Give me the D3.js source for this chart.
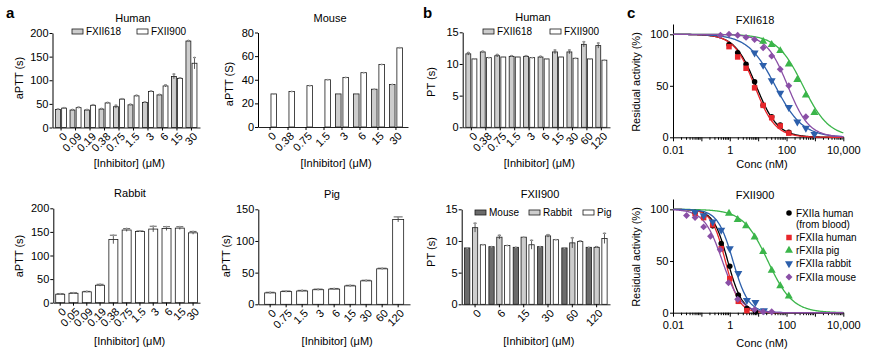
<!doctype html>
<html lang="en">
<head>
<meta charset="UTF-8">
<title>FXII inhibitors: aPTT, PT and residual activity</title>
<script src="https://d3js.org/d3.v7.min.js"></script>
<style>
  body { margin: 0; background: #fff; }
  svg { font-family: Arial, "Liberation Sans", sans-serif; }
</style>
</head>
<body>
<svg id="fig" width="869" height="352"></svg>
<script>

// ---- panel a: aPTT (s) ----
const aHumanConc = ['0', '0.09', '0.19', '0.38', '0.75', '1.5', '3', '6', '15', '30'];
const aHuman618 = [38, 37, 37, 39, 44, 48, 53, 69, 108, 183];
const aHuman618Err = [1, 1, 1, 1, 3, 1, 1, 1, 5, 1];
const aHuman900 = [41, 42, 47, 52, 60, 67, 76, 88, 104, 136];
const aHuman900Err = [1, 1, 1, 1, 1, 1, 1, 2, 1, 12];

const aMouseConc = ['0', '0.38', '0.75', '1.5', '3', '6', '15', '30'];
const aMouse618 = [null, null, null, null, 28, 28, 32, 36];
const aMouse900 = [28, 30, 35, 40, 42, 46, 53, 67];

const aRabbitConc = ['0', '0.05', '0.09', '0.19', '0.38', '0.75', '1.5', '3', '6', '15', '30'];
const aRabbit900 = [18, 20, 23, 37, 134, 154, 151, 156, 157, 158, 148];
const aRabbit900Err = [1, 1, 1, 2, 9, 3, 1, 6, 4, 3, 3];

const aPigConc = ['0', '0.75', '1.5', '3', '6', '15', '30', '60', '120'];
const aPig900 = [18, 20, 21, 23, 24, 29, 37, 56, 134];
const aPig900Err = [1, 1, 1, 1, 1, 1, 1, 1, 4];

// ---- panel b: PT (s) ----
const bHumanConc = ['0', '0.38', '0.75', '1.5', '3', '6', '15', '30', '60', '120'];
const bHuman618 = [11.6, 11.9, 11.3, 11.2, 11.2, 11.1, 11.9, 11.9, 13.1, 12.9];
const bHuman618Err = [0.2, 0.1, 0.2, 0.1, 0.1, 0.1, 0.3, 0.3, 0.4, 0.4];
const bHuman900 = [10.8, 11.0, 11.1, 11.1, 11.0, 10.8, 11.1, 10.9, 10.8, 10.6];

const bSpeciesConc = ['0', '6', '15', '30', '60', '120'];
const bMouse900 = [8.9, 9.1, 9.0, 9.1, 8.9, 9.0];
const bRabbit900 = [12.1, 10.6, 10.6, 10.8, 9.7, 9.0];
const bRabbit900Err = [0.7, 0.3, 0, 0.2, 0.8, 0.1];
const bPig900 = [9.4, 9.3, 9.4, 10.2, 9.9, 10.4];
const bPig900Err = [0, 0, 0.7, 0, 0.1, 0.8];

// ---- panel c: residual activity (%) vs conc (nM) ----
// top: FXII618
const c618BloodConc = [0.94, 1.9, 3.75, 7.5, 15, 30, 60, 120];
const c618BloodVal = [90, 82, 71, 54, 31, 20, 12, 5];
const c618HumanConc = [0.94, 1.9, 3.75, 7.5, 15, 30, 60, 120];
const c618HumanVal = [88, 78, 67, 48, 31, 19, 11, 4];
const c618PigConc = [15, 30, 60, 120, 240, 480, 960];
const c618PigVal = [93, 90, 84, 71, 56, 41, 24];
const c618RabbitConc = [7.5, 15, 30, 60, 120, 240, 480, 960];
const c618RabbitVal = [82, 70, 55, 43, 29, 15, 9, 3];
const c618MouseConc = [0.47, 0.94, 1.9, 3.75, 7.5, 15, 30, 60, 120, 480];
const c618MouseVal = [99, 100, 99, 97, 95, 87, 79, 66, 50, 20];
// fitted IC50 (nM) and Hill slope per curve, order: blood, human, pig, rabbit, mouse
const c618Ic50 = [8.5, 7.5, 380, 40, 110];
const c618Hill = [1.15, 1.2, 0.95, 0.9, 1.15];

// bottom: FXII900
const c900BloodConc = [0.06, 0.12, 0.25, 0.5, 1, 2, 4, 8];
const c900BloodVal = [97, 93, 84, 67, 45, 17, 4, 1];
const c900HumanConc = [0.06, 0.12, 0.25, 0.5, 1, 2, 4];
const c900HumanVal = [96, 92, 85, 62, 33, 11, 2];
const c900PigConc = [0.94, 1.9, 3.75, 7.5, 15, 30, 60, 120];
const c900PigVal = [96, 90, 84, 73, 59, 41, 26, 16];
const c900RabbitConc = [0.06, 0.12, 0.25, 0.5, 1, 2, 4, 8, 16];
const c900RabbitVal = [97, 94, 88, 80, 62, 38, 12, 10, 2];
const c900MouseConc = [0.03, 0.06, 0.12, 0.21, 0.46, 0.9, 1.9, 7.5, 15, 30];
const c900MouseVal = [94, 92, 83, 74, 61, 29, 13, 3, 1, 1];
const c900Ic50 = [0.85, 0.7, 22, 1.3, 0.55];
const c900Hill = [1.7, 1.8, 1.0, 1.6, 1.35];

const legendNames = ['FXIIa human', 'rFXIIa human', 'rFXIIa pig', 'rFXIIa rabbit', 'rFXIIa mouse'];
const curveColors = ['#000000', '#e8262b', '#3bb54a', '#2c5fab', '#8a4fa6'];

const gray618 = '#cdcdcd';
const svg = d3.select('#fig');

function text(x, y, str, opt = {}) {
  return svg.append('text')
      .attr('x', x).attr('y', y)
      .attr('font-size', opt.size || 11)
      .attr('font-weight', opt.weight || 'normal')
      .attr('text-anchor', opt.anchor || 'middle')
      .attr('transform', opt.rotate ? `rotate(-90,${x},${y})` : null)
      .text(str);
}

// one bar chart; left/right/top/bottom are the frame of the axes
function barPanel(p) {
  const g = svg.append('g');
  const x0 = d3.scaleBand().domain(p.cats).range([p.left, p.right]).paddingInner(0).paddingOuter(p.outer);
  const x1 = d3.scaleBand().domain(p.series.map(s => s.key)).range([-p.group / 2, p.group / 2]).paddingInner(p.inner);
  const y = d3.scaleLinear().domain([0, p.max]).range([p.bottom, p.top]);

  p.series.forEach(s => {
    const rows = p.cats.map((c, i) => ({ c, v: s.values[i], e: s.err ? s.err[i] : 0 }))
        .filter(d => d.v != null);
    const cx = d => x0(d.c) + x0.bandwidth() / 2 + x1(s.key);

    g.selectAll(null).data(rows).join('rect')
        .attr('x', cx)
        .attr('y', d => y(d.v))
        .attr('width', x1.bandwidth())
        .attr('height', d => y(0) - y(d.v))
        .attr('fill', s.fill)
        .attr('stroke', '#1a1a1a')
        .attr('stroke-width', 0.8);

    // error bars
    const eb = g.selectAll(null).data(rows.filter(d => d.e > 0)).join('g')
        .attr('stroke', '#333').attr('stroke-width', 0.8);
    eb.append('line')
        .attr('x1', d => cx(d) + x1.bandwidth() / 2).attr('x2', d => cx(d) + x1.bandwidth() / 2)
        .attr('y1', d => y(d.v - d.e)).attr('y2', d => y(d.v + d.e));
    eb.append('line')
        .attr('x1', d => cx(d) + 1).attr('x2', d => cx(d) + x1.bandwidth() - 1)
        .attr('y1', d => y(d.v + d.e)).attr('y2', d => y(d.v + d.e));

    // replicate dots
    g.selectAll(null).data(rows).join('circle')
        .attr('cx', d => cx(d) + x1.bandwidth() / 2)
        .attr('cy', d => y(d.v + d.e))
        .attr('r', 1)
        .attr('fill', '#999');
  });

  g.append('g')
      .attr('transform', `translate(0,${p.bottom})`)
      .call(d3.axisBottom(x0).tickSize(3).tickSizeOuter(0))
      .call(ax => ax.select('.domain').attr('stroke', '#222'))
      .call(ax => ax.selectAll('text')
          .attr('y', 0).attr('dy', '0.35em')
          .attr('font-size', 11).attr('font-family', null)
          .attr('text-anchor', 'end')
          .attr('transform', 'translate(4,7) rotate(-45)'));

  g.append('g')
      .attr('transform', `translate(${p.left},0)`)
      .call(d3.axisLeft(y).tickValues(p.ticks).tickSize(3).tickPadding(1).tickSizeOuter(0))
      .call(ax => ax.selectAll('text').attr('font-size', 11).attr('font-family', null));

  text(p.titleX, p.top - 11, p.title);
  text(p.ylabX, p.ylabY, p.ylab, { rotate: true });
  text((p.left + p.right) / 2 + 3, p.xlabY, '[Inhibitor] (\u03bcM)');
}

function legendBoxes(items, y) {
  items.forEach(it => {
    svg.append('rect').attr('x', it.x).attr('y', y - 2.5).attr('width', 11).attr('height', 5)
        .attr('fill', it.fill).attr('stroke', '#1a1a1a').attr('stroke-width', 0.8);
    text(it.x + 14, y + 3.5, it.label, { size: 10, anchor: 'start' });
  });
}

// ---- a ----
barPanel({ cats: aHumanConc, left: 52.5, right: 200, outer: 0.09, top: 33, bottom: 127.5, max: 200,
  ticks: [0, 50, 100, 150, 200], group: 11, inner: 0.2,
  series: [{ key: '618', values: aHuman618, err: aHuman618Err, fill: gray618 },
           { key: '900', values: aHuman900, err: aHuman900Err, fill: '#fff' }],
  title: 'Human', titleX: 133, ylab: 'aPTT (s)', ylabX: 23, ylabY: 78, xlabY: 167 });
legendBoxes([{ x: 72, fill: gray618, label: 'FXII618' }, { x: 137, fill: '#fff', label: 'FXII900' }], 31.5);

barPanel({ cats: aMouseConc, left: 258, right: 408, outer: 0.17, top: 32.5, bottom: 127, max: 80,
  ticks: [0, 20, 40, 60, 80], group: 13, inner: 0.25,
  series: [{ key: '618', values: aMouse618, fill: gray618 },
           { key: '900', values: aMouse900, fill: '#fff' }],
  title: 'Mouse', titleX: 330, ylab: 'aPTT (S)', ylabX: 233, ylabY: 84, xlabY: 167 });

barPanel({ cats: aRabbitConc, left: 53.3, right: 200, outer: 0.02, top: 208.3, bottom: 302.7, max: 200,
  ticks: [0, 50, 100, 150, 200], group: 9, inner: 0,
  series: [{ key: '900', values: aRabbit900, err: aRabbit900Err, fill: '#fff' }],
  title: 'Rabbit', titleX: 130, ylab: 'aPTT (s)', ylabX: 23, ylabY: 256, xlabY: 345 });

barPanel({ cats: aPigConc, left: 258.3, right: 410, outer: 0.24, top: 209.3, bottom: 304.3, max: 150,
  ticks: [0, 50, 100, 150], group: 11, inner: 0,
  series: [{ key: '900', values: aPig900, err: aPig900Err, fill: '#fff' }],
  title: 'Pig', titleX: 332, ylab: 'aPTT (s)', ylabX: 230, ylabY: 256, xlabY: 345 });

// ---- b ----
barPanel({ cats: bHumanConc, left: 462.7, right: 610, outer: 0.1, top: 32.3, bottom: 127.3, max: 15,
  ticks: [0, 5, 10, 15], group: 11, inner: 0.2,
  series: [{ key: '618', values: bHuman618, err: bHuman618Err, fill: gray618 },
           { key: '900', values: bHuman900, fill: '#fff' }],
  title: 'Human', titleX: 533, ylab: 'PT (s)', ylabX: 435, ylabY: 82, xlabY: 167 });
legendBoxes([{ x: 483, fill: gray618, label: 'FXII618' }, { x: 550, fill: '#fff', label: 'FXII900' }], 31.5);

barPanel({ cats: bSpeciesConc, left: 461.7, right: 610, outer: 0.05, top: 209.3, bottom: 304.3, max: 15,
  ticks: [0, 5, 10, 15], group: 21, inner: 0.33,
  series: [{ key: 'mouse', values: bMouse900, fill: '#6b6b6b' },
           { key: 'rabbit', values: bRabbit900, err: bRabbit900Err, fill: gray618 },
           { key: 'pig', values: bPig900, err: bPig900Err, fill: '#fff' }],
  title: 'FXII900', titleX: 540, ylab: 'PT (s)', ylabX: 435, ylabY: 252, xlabY: 345 });
legendBoxes([{ x: 475, fill: '#6b6b6b', label: 'Mouse' }, { x: 529, fill: gray618, label: 'Rabbit' },
             { x: 583, fill: '#fff', label: 'Pig' }], 212.5);

// ---- c ----
const symbols = [
  { type: d3.symbolCircle, size: 24, rot: 0 },
  { type: d3.symbolSquare, size: 30, rot: 0 },
  { type: d3.symbolTriangle, size: 28, rot: 0 },
  { type: d3.symbolTriangle, size: 28, rot: 180 },
  { type: d3.symbolSquare, size: 24, rot: 45 }
];

function curvePanel(p) {
  const g = svg.append('g');
  const x = d3.scaleLog().domain([0.01, 10000]).range([673, 843.3]);
  const y = d3.scaleLinear().domain([0, 110]).range([p.bottom, p.top]);
  const major = [0.01, 0.1, 1, 10, 100, 1000, 10000];
  const labelled = [0.01, 1, 100, 10000];

  g.append('g')
      .attr('transform', `translate(0,${p.bottom})`)
      .call(d3.axisBottom(x).tickValues(major).tickSize(4).tickPadding(4.5).tickSizeOuter(0)
          .tickFormat(d => labelled.includes(d) ? d3.format(',')(d) : ''))
      .call(ax => ax.selectAll('text').attr('font-size', 11).attr('font-family', null));
  g.append('g')
      .attr('transform', `translate(0,${p.bottom})`)
      .selectAll('line')
      .data(x.ticks().filter(t => !major.some(m => Math.abs(m - t) / m < 1e-6)))
      .join('line')
      .attr('x1', d => x(d)).attr('x2', d => x(d))
      .attr('y1', 0).attr('y2', 2.5)
      .attr('stroke', '#000');

  g.append('g')
      .attr('transform', 'translate(673,0)')
      .call(d3.axisLeft(y).tickValues([0, 50, 100]).tickSize(3).tickPadding(1.5).tickSizeOuter(0))
      .call(ax => ax.selectAll('text').attr('font-size', 11).attr('font-family', null));

  const grid = d3.range(-2, 4.001, 0.02).map(e => Math.pow(10, e));
  p.sets.forEach((s, i) => {
    const line = d3.line()
        .x(c => x(c))
        .y(c => y(100 / (1 + Math.pow(c / p.ic50[i], p.hill[i]))));
    g.append('path')
        .attr('d', line(grid))
        .attr('fill', 'none')
        .attr('stroke', curveColors[i])
        .attr('stroke-width', 1.3);
  });
  p.sets.forEach((s, i) => {
    const pts = s.conc.map((c, j) => ({ c, v: s.val[j] }));
    g.selectAll(null).data(pts).join('path')
        .attr('transform', d => `translate(${x(d.c)},${y(d.v)}) rotate(${symbols[i].rot})`)
        .attr('d', d3.symbol().type(symbols[i].type).size(symbols[i].size))
        .attr('fill', curveColors[i]);
  });

  text(755, p.top, p.title);
  text(640, p.ylabY, 'Residual activity (%)', { rotate: true });
  text(762, p.xlabY, 'Conc (nM)');
}

curvePanel({ top: 24, bottom: 137.3, title: 'FXII618', ylabY: 82, xlabY: 168,
  ic50: c618Ic50, hill: c618Hill,
  sets: [{ conc: c618BloodConc, val: c618BloodVal }, { conc: c618HumanConc, val: c618HumanVal },
         { conc: c618PigConc, val: c618PigVal }, { conc: c618RabbitConc, val: c618RabbitVal },
         { conc: c618MouseConc, val: c618MouseVal }] });

curvePanel({ top: 199, bottom: 312.7, title: 'FXII900', ylabY: 257, xlabY: 347,
  ic50: c900Ic50, hill: c900Hill,
  sets: [{ conc: c900BloodConc, val: c900BloodVal }, { conc: c900HumanConc, val: c900HumanVal },
         { conc: c900PigConc, val: c900PigVal }, { conc: c900RabbitConc, val: c900RabbitVal },
         { conc: c900MouseConc, val: c900MouseVal }] });

// legend of bottom c
const legRows = [213, 237.5, 250.5, 263.5, 277];
legendNames.forEach((name, i) => {
  svg.append('path')
      .attr('transform', `translate(789,${legRows[i]}) rotate(${symbols[i].rot})`)
      .attr('d', d3.symbol().type(symbols[i].type).size(symbols[i].size))
      .attr('fill', curveColors[i]);
  text(796, legRows[i] + 3.5, name, { size: 10, anchor: 'start' });
});
text(796, 227.5, '(from blood)', { size: 10, anchor: 'start' });

// panel letters
text(6, 18, 'a', { size: 15, weight: 'bold', anchor: 'start' });
text(423, 18, 'b', { size: 15, weight: 'bold', anchor: 'start' });
text(627, 18, 'c', { size: 15, weight: 'bold', anchor: 'start' });

</script>
</body>
</html>
